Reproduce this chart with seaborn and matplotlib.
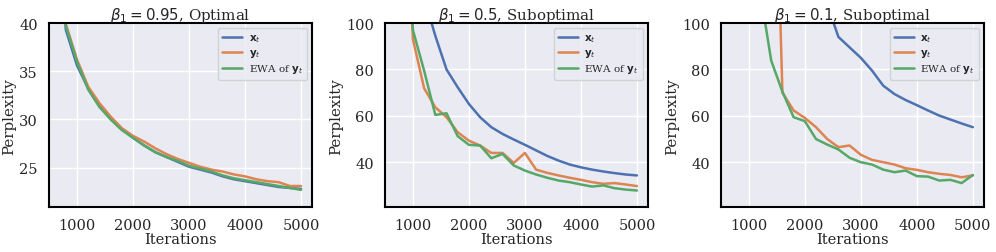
"""
Perplexity of x_t, y_t and EWA of y_t for three beta_1 settings.
"""

import matplotlib
matplotlib.use("Agg")
import matplotlib.pyplot as plt
import seaborn as sns
import pandas as pd
import numpy as np

iterations = [600, 800, 1000, 1200, 1400, 1600, 1800, 2000, 2200, 2400, 2600, 2800,
              3000, 3200, 3400, 3600, 3800, 4000, 4200, 4400, 4600, 4800, 5000]

# beta_1 = 0.95
opt_x = [60, 39.3, 35.6, 33.2, 31.4, 30.1, 29.0, 28.1, 27.3, 26.6, 26.1, 25.6,
         25.1, 24.8, 24.5, 24.1, 23.8, 23.6, 23.4, 23.2, 23.0, 22.9, 22.8]
opt_y = [61, 39.9, 36.2, 33.4, 31.7, 30.3, 29.1, 28.3, 27.7, 27.0, 26.4, 25.9,
         25.5, 25.1, 24.8, 24.6, 24.3, 24.1, 23.8, 23.6, 23.5, 23.1, 23.1]
opt_ewa = [60, 39.7, 36.0, 33.1, 31.3, 30.0, 28.9, 28.1, 27.3, 26.6, 26.1, 25.7,
           25.2, 24.9, 24.6, 24.2, 23.9, 23.7, 23.5, 23.3, 23.1, 22.9, 22.7]

# beta_1 = 0.5
mid_x = [250, 180, 140, 111, 94.5, 80, 72.3, 65.1, 59.4, 55.1, 52.2, 49.8,
         47.5, 45.1, 42.7, 40.7, 39.0, 37.8, 36.8, 36.0, 35.3, 34.7, 34.3]
mid_y = [300, 200, 93, 71.9, 63.7, 59.4, 52.9, 49.3, 47.2, 44.0, 44.0, 39.7,
         44.0, 36.8, 35.4, 34.3, 33.3, 32.4, 31.4, 30.7, 31.0, 30.4, 29.7]
mid_ewa = [300, 200, 97, 79.5, 60.4, 61.1, 51.2, 47.5, 47.2, 41.7, 43.6, 38.6,
           36.4, 34.7, 33.3, 32.1, 31.4, 30.4, 29.5, 30.0, 28.8, 28.2, 27.8]

# beta_1 = 0.1
low_x = [400, 330, 280, 240, 205, 175, 150, 132, 118, 108, 94.0, 89.5,
         85.0, 79.5, 73.0, 69.4, 66.8, 64.6, 62.3, 60.1, 58.4, 56.7, 55.1]
low_y = [500, 480, 450, 400, 240, 70, 62.3, 59.1, 55.1, 50.0, 46.5, 47.2,
         43.2, 41.0, 40.0, 39.0, 37.4, 36.7, 35.7, 35.0, 34.5, 33.5, 34.3]
low_ewa = [300, 200, 150, 114, 83.8, 70.4, 59.4, 57.7, 50.0, 47.6, 45.5, 41.9,
           40.0, 39.0, 36.8, 35.7, 36.4, 34.0, 33.8, 32.1, 32.4, 31.0, 34.5]

titles = [r"$\beta_1 = 0.95$, Optimal", r"$\beta_1 = 0.5$, Suboptimal",
          r"$\beta_1 = 0.1$, Suboptimal"]
series_labels = [r"$\mathbf{x}_t$", r"$\mathbf{y}_t$", r"EWA of $\mathbf{y}_t$"]
panels = [(opt_x, opt_y, opt_ewa), (mid_x, mid_y, mid_ewa), (low_x, low_y, low_ewa)]
ylims = [(20.9, 40), (20.6, 100), (20.6, 100)]
yticks = [[25, 30, 35, 40], [40, 60, 80, 100], [40, 60, 80, 100]]
xticks = [1000, 2000, 3000, 4000, 5000]

sns.set_theme(style="darkgrid")
plt.rcParams['font.family'] = ['DejaVu Serif']
colors = sns.color_palette("deep")[:3]

fig, axes = plt.subplots(1, 3, figsize=(9.96, 2.53), dpi=100)
fig.subplots_adjust(left=0.0492, right=0.988, top=0.905, bottom=0.177, wspace=0.276)

for ax, series, title, ylim, yt in zip(axes, panels, titles, ylims, yticks):
    for vals, lab, c in zip(series, series_labels, colors):
        sns.lineplot(x=iterations, y=vals, ax=ax, label=lab, color=c, linewidth=1.8)
    ax.set_xlim(500, 5200)
    ax.set_ylim(*ylim)
    ax.set_xticks(xticks)
    ax.set_yticks(yt)
    ax.tick_params(labelsize=10.5, pad=2)
    ax.set_xlabel("Iterations", fontsize=10.5, labelpad=0)
    ax.set_ylabel("Perplexity", fontsize=10.8, labelpad=2)
    ax.set_title(title, fontsize=10.8, pad=3)
    for sp in ax.spines.values():
        sp.set_visible(True)
        sp.set_color("black")
        sp.set_linewidth(1.5)
    ax.legend(loc="upper right", fontsize=7.5, handlelength=1.9,
              labelspacing=0.3, borderpad=0.4, handletextpad=0.6)

fig.savefig("out.png", dpi=100)
